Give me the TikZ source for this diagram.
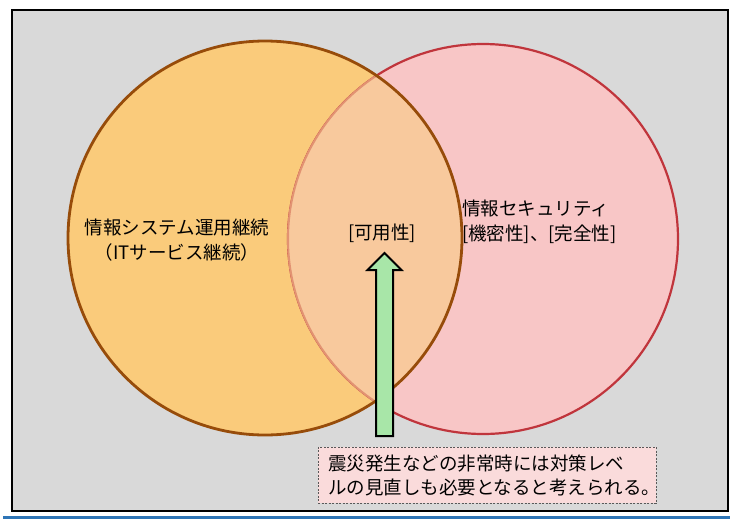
\documentclass[tikz,border=0pt]{standalone}
\usepackage{fontspec}
\setmainfont{Noto Sans CJK JP}
\usetikzlibrary{positioning}
\definecolor{bggray}{HTML}{D9D9D9}
\definecolor{orangefill}{HTML}{FACB7B}
\definecolor{orangeline}{HTML}{974C0A}
\definecolor{pinkfill}{HTML}{F8C6C6}
\definecolor{pinkline}{HTML}{C0353C}
\definecolor{overlapfill}{HTML}{F8C99D}
\definecolor{overlapline}{HTML}{E29372}
\definecolor{arrowgreen}{HTML}{A8E6A8}
\definecolor{notefill}{HTML}{FADBDB}
\definecolor{rulebl}{HTML}{2E75B6}
\tikzset{
  frame/.style={draw=black, line width=1.2pt, fill=bggray},
  underrule/.style={draw=rulebl, line width=3pt},
  leftset/.style={fill=orangefill},
  leftline/.style={draw=orangeline, line width=2.8pt},
  rightset/.style={fill=pinkfill, draw=pinkline, line width=2.2pt},
  overlapset/.style={fill=overlapfill, draw=overlapline, line width=2pt},
  vennlabel/.style={font=\fontsize{18.5}{25}\selectfont, align=center,
    text=black, inner sep=0pt},
  upblock/.style={draw=black, line width=2pt, fill=arrowgreen, line join=miter},
  notebox/.style={draw=black!65, dash pattern=on 2pt off 1.5pt, line width=0.8pt,
    fill=notefill, align=left, text width=318pt, inner xsep=10pt,
    minimum height=56pt, font=\fontsize{18.5}{24}\selectfont}
}
\begin{document}
\begin{tikzpicture}[x=1pt,y=-1pt]
  \useasboundingbox (0,0) rectangle (739,528);
  \draw[frame] (12,10) rectangle (728,511);
  \draw[underrule] (3,517) -- (730,517);
  % two sets
  \coordinate (lc) at (265,238);
  \coordinate (rc) at (483,239);
  \fill[leftset] (lc) circle (197pt);
  \filldraw[rightset] (rc) circle (195pt);
  \begin{scope}
    \clip (lc) circle (197pt);
    \filldraw[overlapset] (rc) circle (195pt);
  \end{scope}
  \draw[leftline] (lc) circle (197pt);
  % labels
  \node[vennlabel] (itcont) at (177,240) {情報システム運用継続\\（ITサービス継続）};
  \node[vennlabel] (avail) at (382,233) {[可用性]};
  \node[vennlabel, align=left, anchor=west] (secu) at (462,222)
    {情報セキュリティ\\ {[}機密性]、[完全性]};
  % note and block arrow up to [可用性]
  \node[notebox] (note) at (487,475)
    {震災発生などの非常時には対策レベ\\ルの見直しも必要となると考えられる。};
  \coordinate (tip) at (384.5,253);
  \draw[upblock] (tip) -- ++(17,17) -- ++(-8.5,0) -- ++(0,166) -- ++(-17,0)
    -- ++(0,-166) -- ++(-8.5,0) -- cycle;
\end{tikzpicture}
\end{document}
